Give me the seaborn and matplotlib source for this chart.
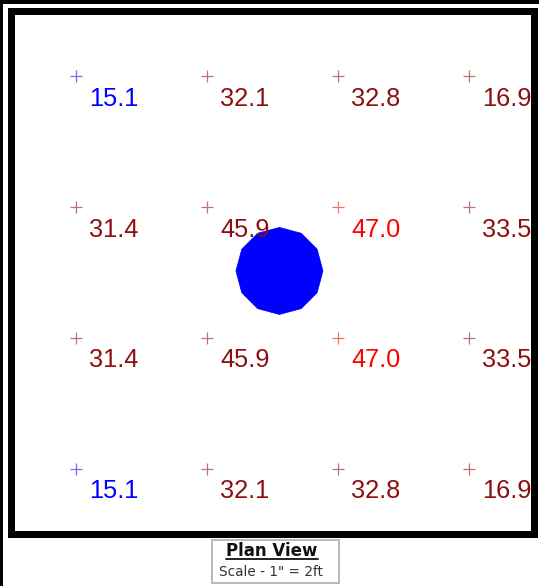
import numpy as np
import pandas as pd
import matplotlib
matplotlib.use("Agg")
import matplotlib.pyplot as plt
from matplotlib.patches import Rectangle, RegularPolygon
from matplotlib.lines import Line2D
import seaborn as sns

# ---- data ----
col_positions_ft = [1, 3, 5, 7]
row_positions_ft = [1, 3, 5, 7]
row1_values = [15.1, 32.1, 32.8, 16.9]
row2_values = [31.4, 45.9, 47.0, 33.5]
row3_values = [31.4, 45.9, 47.0, 33.5]
row4_values = [15.1, 32.1, 32.8, 16.9]
room_size_ft = [8, 8]
fixture_center_ft = [4.11, 3.98]
fixture_radius_ft = 0.665
title_text = "Plan View"
scale_text = 'Scale - 1" = 2ft'

rows = [row1_values, row2_values, row3_values, row4_values]
recs = []
for ry, vals in zip(row_positions_ft, rows):
    for cx, v in zip(col_positions_ft, vals):
        lvl = "low" if v < 16 else ("high" if v >= 46.5 else "mid")
        recs.append({"x": cx, "y": ry, "value": v, "level": lvl})
df = pd.DataFrame(recs)

palette = {"low": "#0000ff", "mid": "#8c1010", "high": "#ff0000"}
cross_palette = {"low": "#7070ff", "mid": "#c07070", "high": "#f07070"}

sns.set_theme(style="white")
plt.rcParams["font.family"] = ["Liberation Sans", "DejaVu Sans"]

W, H = 539, 586
fig = plt.figure(figsize=(W / 100, H / 100), dpi=100)
fig.patch.set_facecolor("white")

# room axes: 0..8 ft -> pixels x 10..534, y 10.5..534.5
left_px, top_px, size_px = 10.5, 10.5, 523.5
ax = fig.add_axes([left_px / W, 1 - (top_px + size_px) / H, size_px / W, size_px / H])
ax.set_xlim(0, room_size_ft[0])
ax.set_ylim(room_size_ft[1], 0)
ax.set_xticks([])
ax.set_yticks([])
ax.set_facecolor("white")
for sp in ax.spines.values():
    sp.set_visible(True)
    sp.set_color("black")
    sp.set_linewidth(7 * 0.72)
    sp.set_zorder(10)

sns.scatterplot(data=df, x="x", y="y", hue="level", palette=cross_palette,
                marker="+", s=75, linewidth=0.9, legend=False, ax=ax, zorder=4)
ax.set_xlabel("")
ax.set_ylabel("")

ax.add_patch(RegularPolygon(fixture_center_ft, numVertices=12, radius=fixture_radius_ft,
                            orientation=0, facecolor="#0000ff", edgecolor="#0000ff",
                            lw=0.5, zorder=2))

for _, r in df.iterrows():
    t = ax.annotate(f"{r['value']:.1f}", xy=(r["x"], r["y"]), xytext=(9.6, -21.4),
                    textcoords="offset points", ha="left", va="baseline",
                    fontsize=18.3, color=palette[r["level"]], zorder=5)
    t.set_clip_on(True)
    t.set_clip_path(ax.patch)

# screenshot edge strips
fig.patches.append(Rectangle((0, 0), 3.2 / W, 1, transform=fig.transFigure,
                             facecolor="black", edgecolor="none", zorder=0))
fig.patches.append(Rectangle((0, 1 - 3.5 / H), 1, 3.5 / H, transform=fig.transFigure,
                             facecolor="black", edgecolor="none", zorder=0))

# legend box
bx0, bx1, by0, by1 = 212, 339, 540, 583
fig.patches.append(Rectangle((bx0 / W, 1 - by1 / H), (bx1 - bx0) / W, (by1 - by0) / H,
                             transform=fig.transFigure, facecolor="white",
                             edgecolor="#b4b4b4", lw=1.3, zorder=1))
t1 = fig.text(272 / W, 1 - 556.5 / H, title_text, ha="center", va="baseline",
              fontsize=12, fontweight="bold", color="#111111", family="DejaVu Sans", zorder=2)
fig.text(271 / W, 1 - 576.5 / H, scale_text, ha="center", va="baseline",
         fontsize=9.8, color="#333333", family="DejaVu Sans", zorder=2)

fig.canvas.draw()
bb = t1.get_window_extent(fig.canvas.get_renderer())
uy = 1 - 558.6 / H
fig.lines.append(Line2D([bb.x0 / W, bb.x1 / W], [uy, uy], transform=fig.transFigure,
                        color="#111111", lw=1.3, zorder=2))

fig.savefig("out.png", dpi=100, facecolor="white")
